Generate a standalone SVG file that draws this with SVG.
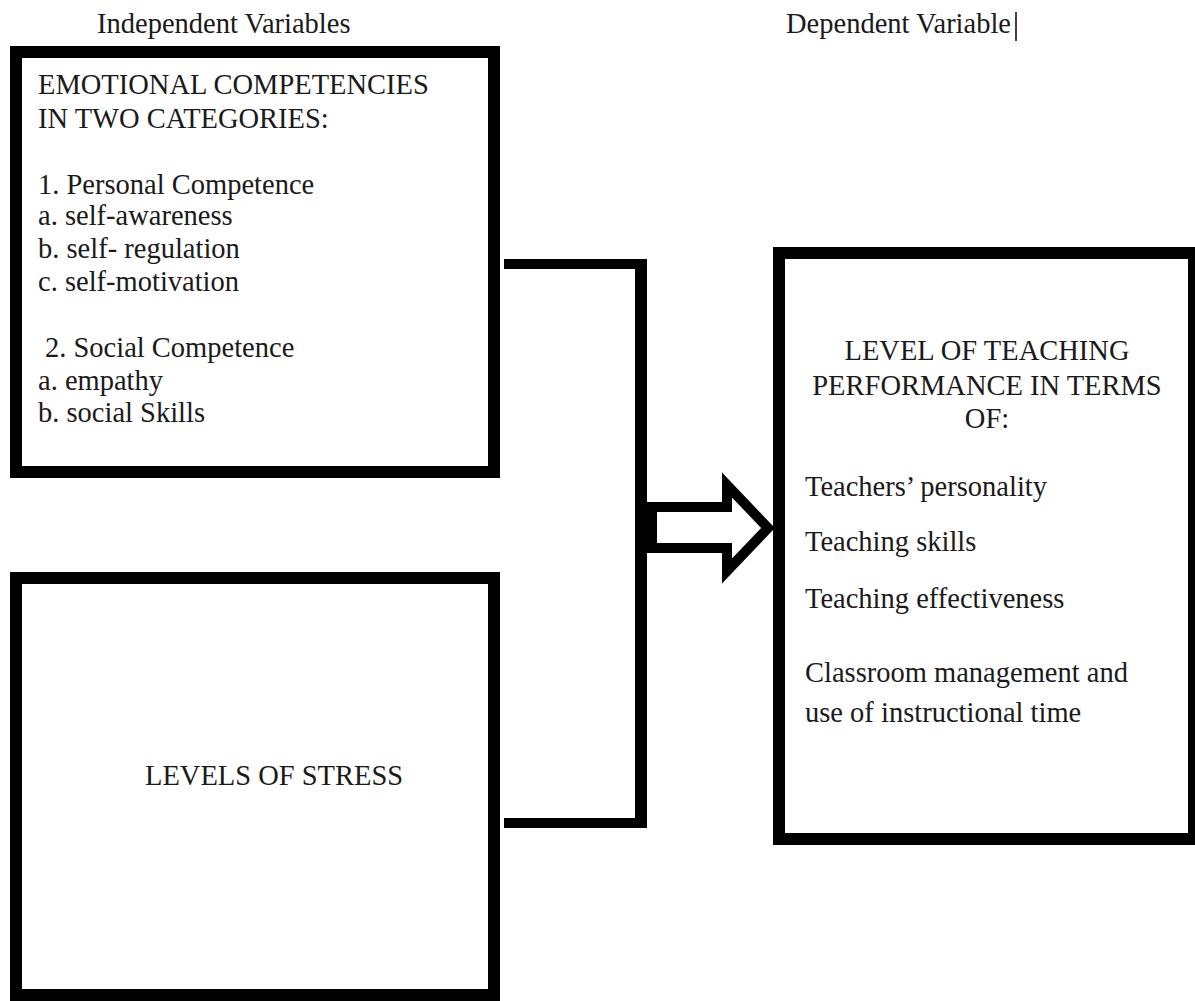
<svg xmlns="http://www.w3.org/2000/svg" width="1195" height="1001" viewBox="0 0 1195 1001">
  <style>
    .box { fill: #ffffff; stroke: #000000; stroke-width: 12; }
    .t { font-family: 'Liberation Serif', 'Times New Roman', Times, serif; font-size: 28.5px; fill: #1a1a1a; }
    .c { text-anchor: middle; }
    .line { fill: none; stroke: #000000; }
  </style>
  <rect x="0" y="0" width="1195" height="1001" fill="#ffffff"/>

  <g id="headings">
    <text class="t" x="97" y="33">Independent Variables</text>
    <text class="t" x="786" y="33">Dependent Variable</text>
    <line x1="1016" y1="12" x2="1016" y2="41" stroke="#000000" stroke-width="1.5"/>
  </g>

  <g id="node-emotional-competencies">
    <rect class="box" x="16" y="52" width="478" height="420"/>
    <text class="t" x="38" y="94">EMOTIONAL COMPETENCIES</text>
    <text class="t" x="38" y="128">IN TWO CATEGORIES:</text>
    <text class="t" x="38" y="194">1. Personal Competence</text>
    <text class="t" x="38" y="225">a. self-awareness</text>
    <text class="t" x="38" y="258">b. self- regulation</text>
    <text class="t" x="38" y="291">c. self-motivation</text>
    <text class="t" x="45" y="357">2. Social Competence</text>
    <text class="t" x="38" y="390">a. empathy</text>
    <text class="t" x="38" y="422">b. social Skills</text>
  </g>

  <g id="node-levels-of-stress">
    <rect class="box" x="16" y="578" width="478" height="417"/>
    <text class="t" x="145" y="785">LEVELS OF STRESS</text>
  </g>

  <g id="node-teaching-performance">
    <rect class="box" x="779" y="253" width="415" height="586"/>
    <text class="t c" x="987" y="360">LEVEL OF TEACHING</text>
    <text class="t c" x="987" y="395">PERFORMANCE IN TERMS</text>
    <text class="t c" x="987" y="428">OF:</text>
    <text class="t" x="805" y="496">Teachers’ personality</text>
    <text class="t" x="805" y="551">Teaching skills</text>
    <text class="t" x="805" y="608">Teaching effectiveness</text>
    <text class="t" x="805" y="682">Classroom management and</text>
    <text class="t" x="805" y="722">use of instructional time</text>
  </g>

  <g id="connectors">
    <line class="line" x1="504" y1="264" x2="641" y2="264" stroke-width="10"/>
    <line class="line" x1="504" y1="823" x2="641" y2="823" stroke-width="10"/>
    <line class="line" x1="641" y1="259" x2="641" y2="828" stroke-width="12"/>
    <path class="line" d="M652,507 L727,507 L727,485 L768,528 L727,571 L727,548 L652,548 Z" stroke-width="10" stroke-linejoin="miter" stroke-miterlimit="10" fill="#ffffff"/>
  </g>
</svg>
